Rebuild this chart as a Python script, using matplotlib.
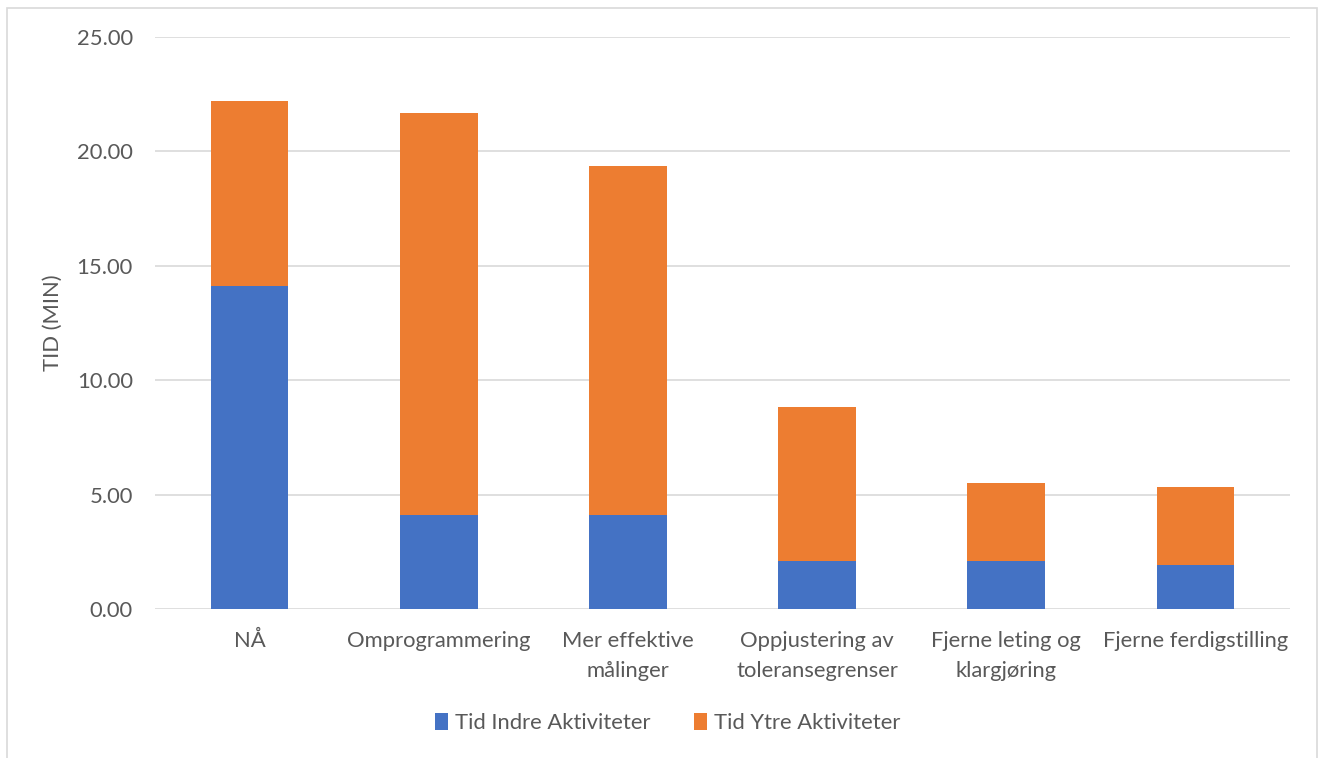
import numpy as np
import matplotlib.pyplot as plt
from matplotlib.patches import Rectangle

plt.rcParams['font.family'] = ['Lato', 'DejaVu Sans']

# Data
kategorier = ['NÅ', 'Omprogrammering', 'Mer effektive\nmålinger',
              'Oppjustering av\ntoleransegrenser', 'Fjerne leting og\nklargjøring',
              'Fjerne ferdigstilling']
indre = [14.12, 4.11, 4.11, 2.10, 2.10, 1.92]
totalt = [22.20, 21.68, 19.36, 8.83, 5.51, 5.33]
ytre = [t - i for t, i in zip(totalt, indre)]

grey = '#595959'
blue = '#4472C4'
orange = '#ED7D31'
fs = 15.8

fig = plt.figure(figsize=(13.27, 7.58), dpi=100)
ax = fig.add_axes([0.1168, 0.1966, 0.8553, 0.7546])

x = np.arange(len(kategorier))
ax.bar(x, indre, width=0.41, color=blue, label='Tid Indre Aktiviteter', zorder=3)
ax.bar(x, ytre, width=0.41, bottom=indre, color=orange, label='Tid Ytre Aktiviteter', zorder=3)

ax.set_xlim(-0.5, len(kategorier) - 0.5)
ax.set_ylim(0, 25)
ax.set_yticks(np.arange(0, 26, 5))
ax.set_yticklabels([f'{v:.2f}' for v in np.arange(0, 26, 5)])
ax.set_xticks(x)
ax.set_xticklabels(kategorier, linespacing=1.6)
ax.tick_params(axis='both', length=0, labelsize=fs, colors=grey)
ax.tick_params(axis='x', pad=16)
ax.tick_params(axis='y', pad=16)
ax.grid(axis='y', color='#D9D9D9', linewidth=1.2, zorder=0)
for s in ax.spines.values():
    s.set_visible(False)

ax.set_ylabel('TID (MIN)', fontsize=fs, color=grey, labelpad=10)

leg = fig.legend(loc='center', bbox_to_anchor=(0.503, 0.046), ncol=2, frameon=False,
                 fontsize=fs, handlelength=0.6, handleheight=0.8, handletextpad=0.3,
                 columnspacing=2.0)
for t in leg.get_texts():
    t.set_color(grey)

# light outer border
fig.patches.append(Rectangle((0.0053, -0.01), 0.9872, 0.999, transform=fig.transFigure,
                             fill=False, edgecolor='#D9D9D9', linewidth=1.2))

fig.savefig('out.png', dpi=100)
